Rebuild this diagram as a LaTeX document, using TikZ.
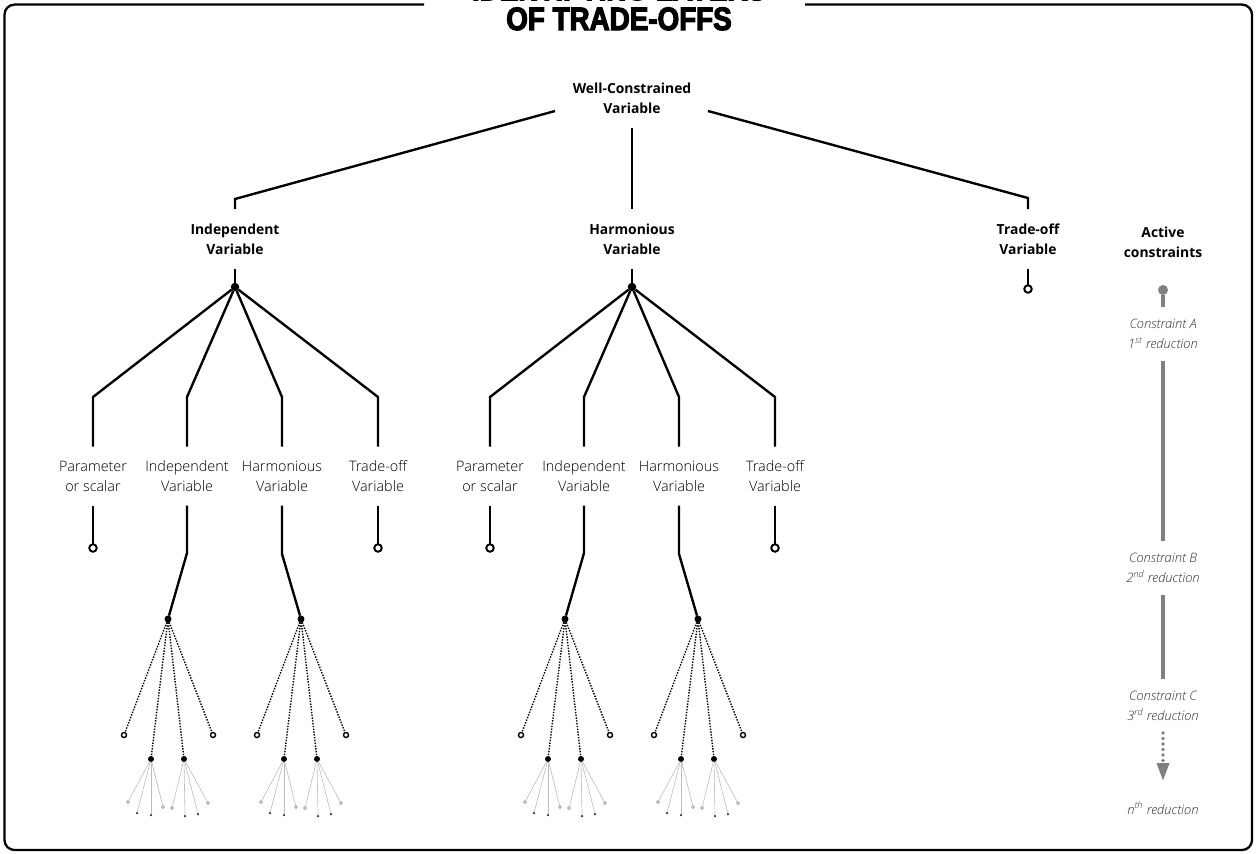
\documentclass[tikz,border=0pt]{standalone}
\usepackage{fontspec}
\setmainfont{Open Sans}
\newfontfamily\lightfont{Open Sans}[UprightFont=* Light, ItalicFont=* Light Italic]
\newfontfamily\titlefont{Liberation Sans Bold}[FakeBold=3.6, FakeStretch=0.86]
\usetikzlibrary{arrows.meta}

\definecolor{linegray}{HTML}{808080}
\definecolor{notegray}{HTML}{2E2E2E}
\definecolor{thingray}{HTML}{BDBDBD}

\tikzset{
  x=0.02cm, y=-0.02cm,
  frame/.style={line width=1.3pt, rounded corners=0.2cm},
  link/.style={line width=1.35pt},
  dotlink/.style={line width=0.8pt, dash pattern=on 0.8pt off 0.8pt},
  thinlink/.style={line width=0.35pt, thingray},
  bigdot/.style={circle, fill=black, inner sep=0pt, outer sep=0pt, minimum size=0.17cm},
  middot/.style={circle, fill=black, inner sep=0pt, outer sep=0pt, minimum size=0.14cm},
  smalldot/.style={circle, fill=black, inner sep=0pt, outer sep=0pt, minimum size=0.12cm},
  endring/.style={circle, draw=black, line width=1.1pt, fill=white, inner sep=0pt, outer sep=0pt, minimum size=0.15cm},
  midring/.style={circle, draw=black, line width=0.8pt, fill=white, inner sep=0pt, outer sep=0pt, minimum size=0.1cm},
  tinyring/.style={circle, draw=gray, line width=0.35pt, inner sep=0pt, outer sep=0pt, minimum size=0.06cm},
  tinydot/.style={circle, fill=black!80, inner sep=0pt, outer sep=0pt, minimum size=0.05cm},
  lab/.style={font=\lightfont\fontsize{8.2pt}{11.34pt}\selectfont, align=center, inner sep=0pt, outer sep=0pt, minimum height=1.18cm},
  head/.style={lab, font=\fontsize{7.9pt}{11.34pt}\selectfont\bfseries, minimum height=1.2cm},
  note/.style={font=\lightfont\fontsize{7.4pt}{11.34pt}\selectfont\itshape, text=notegray, align=center, inner sep=0pt, outer sep=0pt, minimum height=1.08cm},
  gline/.style={line width=2.1pt, linegray},
  gdots/.style={line width=2.1pt, linegray, line cap=round, dash pattern=on 0pt off 0.11cm},
  gdot/.style={circle, fill=linegray, inner sep=0pt, outer sep=0pt, minimum size=0.2cm},
  titletext/.style={font=\titlefont\fontsize{18.4pt}{18pt}\selectfont, inner sep=0pt, anchor=base},
}

% fan of thin grey branches below a third-level dot
\newcommand\tinyfan[5]{% #1 dot name, #2/#3 position, #4 ring offsets, #5 dot offsets
  \begin{scope}[shift={(#2,#3)}]
    \foreach \dx/\dy [count=\n] in {#4} {
      \node[tinyring] (#1-r\n) at (\dx,\dy) {};
      \draw[thinlink] (#1) -- (#1-r\n);
    }
    \foreach \dx/\dy [count=\n] in {#5} {
      \node[tinydot] (#1-d\n) at (\dx,\dy) {};
      \draw[thinlink] (#1) -- (#1-d\n);
    }
  \end{scope}}

% dotted fan below a second-level dot
\newcommand\dotfan[3]{% #1 dot name, #2/#3 position
  \begin{scope}[shift={(#2,#3)}]
    \node[midring] (#1-o1) at (-44,116) {};
    \node[midring] (#1-o2) at (45,116) {};
    \node[smalldot] (#1-p1) at (-17,140) {};
    \node[smalldot] (#1-p2) at (16,140) {};
    \foreach \t in {o1,o2,p1,p2} \draw[dotlink] (#1) -- (#1-\t);
    \tinyfan{#1-p1}{-17}{140}{-23/43, 12/48}{-14/54, 0/56}
    \tinyfan{#1-p2}{16}{140}{-12/49, 24/44}{1/57, 14/55}
  \end{scope}}

% one variable with its four kinds of child variables
\newcommand\subtree[2]{% #1 name of the top dot, #2 its x position
  \begin{scope}[shift={(#2,287)}]
    \node[bigdot] (#1) at (0,0) {};
    \foreach \k/\cx/\txt in {a/-142/{Parameter\\or scalar}, b/-48/{Independent\\Variable},
                             c/47/{Harmonious\\Variable}, d/143/{Trade-off\\Variable}} {
      \coordinate (#1\k-bend) at (\cx,110);
      \node[lab] (#1\k) at (\cx,189) {\txt};
      \draw[link] (#1) -- (#1\k-bend) -- (#1\k.north);
    }
    \node[endring] (#1a-end) at (-142,261) {};
    \draw[link] (#1a.south) -- (#1a-end);
    \node[endring] (#1d-end) at (143,261) {};
    \draw[link] (#1d.south) -- (#1d-end);
    \coordinate (#1b-knee) at (-48,266);
    \node[middot] (#1b-dot) at (-67,332) {};
    \draw[link] (#1b.south) -- (#1b-knee) -- (#1b-dot);
    \coordinate (#1c-knee) at (47,267);
    \node[middot] (#1c-dot) at (66,332) {};
    \draw[link] (#1c.south) -- (#1c-knee) -- (#1c-dot);
    \dotfan{#1b-dot}{-67}{332}
    \dotfan{#1c-dot}{66}{332}
  \end{scope}}

\begin{document}
\begin{tikzpicture}
  \useasboundingbox (0,0) rectangle (1257,853);

  % frame with an opening for the title
  \draw[frame] (424,4.6) -- (4.5,4.6) -- (4.5,850) -- (1252,850) -- (1252,4.6) -- (805,4.6);
  \node[titletext] (title1) at (619,0.2) {IDENTIFYING LAYERS};
  \node[titletext] (title2) at (619,30) {OF TRADE-OFFS};

  % top of the tree
  \node[head] (wc) at (632,98) {Well-Constrained\\Variable};
  \coordinate (wc-l) at (555,111);
  \coordinate (wc-r) at (708,111);

  \node[head] (iv) at (235,239) {Independent\\Variable};
  \node[head] (hv) at (632,239) {Harmonious\\Variable};
  \node[head] (tv) at (1028,239) {Trade-off\\Variable};
  \coordinate (iv-bend) at (235,199);
  \coordinate (tv-bend) at (1028,198);

  \draw[link] (wc-l) -- (iv-bend) -- (iv.north);
  \draw[link] (wc.south) -- (hv.north);
  \draw[link] (wc-r) -- (tv-bend) -- (tv.north);

  \node[endring] (tv-end) at (1028,289) {};
  \draw[link] (tv.south) -- (tv-end);

  \subtree{I}{235}
  \subtree{H}{632}
  \draw[link] (iv.south) -- (I);
  \draw[link] (hv.south) -- (H);

  % active constraints column
  \node[head] (ac) at (1163,242) {Active\\constraints};
  \node[gdot] (g0) at (1163,290) {};
  \node[note] (cA) at (1163,334) {Constraint A\\1\textsuperscript{st} reduction};
  \node[note] (cB) at (1163,568) {Constraint B\\2\textsuperscript{nd} reduction};
  \node[note] (cC) at (1163,706) {Constraint C\\3\textsuperscript{rd} reduction};
  \node[note] (cN) at (1163,808) {n\textsuperscript{th} reduction};
  \draw[gline] (g0) -- (cA.north);
  \draw[gline] (cA.south) -- (cB.north);
  \draw[gline] (cB.south) -- (cC.north);
  \draw[gdots, -{Triangle[width=0.24cm, length=0.36cm]}] (cC.south) -- (cN.north);
\end{tikzpicture}
\end{document}
